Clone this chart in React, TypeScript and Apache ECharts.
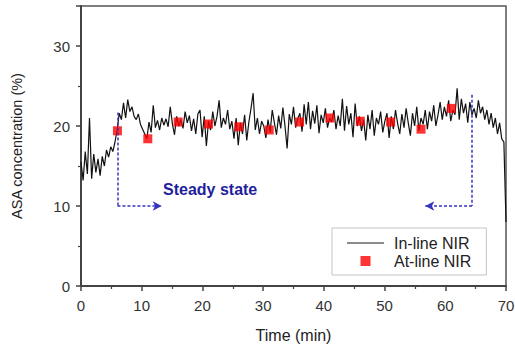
import React, { useEffect, useRef } from "react";
import * as echarts from "echarts";

const inlineStep = 0.35;
const inlineValues = [
  15.5, 13.2, 16.8, 14.0, 21.0, 13.4, 16.5, 14.2, 15.9, 13.8, 16.2, 15.0, 17.0, 16.1, 17.4, 16.8, 18.0, 19.5, 21.6, 20.8,
  22.9, 21.0, 23.3, 21.8, 22.4, 21.2, 20.8, 21.5, 20.2, 19.6, 19.0, 18.4, 20.5, 19.2, 22.6, 19.8, 20.7, 19.5, 21.0, 20.1,
  20.9, 19.9, 22.4, 20.3, 18.9, 21.2, 20.0, 20.8, 19.7, 21.8, 20.4, 21.3, 19.4, 20.9, 19.0, 21.5, 22.0, 18.6, 21.2, 17.5,
  20.6, 19.5, 21.8, 20.0, 21.2, 23.2, 19.8, 21.0, 20.2, 22.0, 19.6, 20.6, 18.4, 21.0, 17.6, 20.4, 19.0, 21.4, 18.2, 20.5,
  22.2, 24.1, 19.5, 21.0, 19.0, 20.6, 20.0, 18.5, 20.8, 19.2, 22.0, 20.4, 18.9, 21.3, 19.7, 22.3, 20.0, 17.2, 21.5, 20.2,
  22.4, 19.8, 20.9, 21.6, 19.3, 22.7, 20.2, 23.0, 19.6, 21.9, 20.3, 22.6, 19.1, 21.4, 20.4, 22.2, 19.8, 21.0, 20.5, 22.0,
  19.6, 21.3, 20.0, 23.4, 19.4, 22.5, 20.2, 21.6, 18.6, 22.8, 20.0, 21.2, 19.4, 20.8, 18.2, 21.4, 19.6, 22.0, 18.8, 21.0,
  20.2, 21.8, 19.2, 20.6, 21.6, 18.5, 21.2, 19.6, 22.0, 20.3, 19.0, 21.5, 19.8, 22.2, 20.4, 18.8, 21.6, 20.0, 22.4, 19.4,
  21.0, 20.2, 22.0, 19.6, 21.8, 20.6, 22.6, 20.0, 21.4, 23.0, 20.8, 22.4, 21.2, 23.2, 20.6, 22.0, 21.4, 24.7, 20.8, 23.4,
  21.6, 22.8, 20.4, 23.0, 21.4, 22.2, 21.0, 23.2, 21.6, 22.4, 20.8, 22.0, 20.2, 21.6, 19.8, 21.0, 19.0, 20.4, 18.4, 18.0,
  8.0,
];

const atlineTimes = [6, 11, 16, 21, 26, 31, 36, 41, 46, 51, 56, 61];
const atlineValues = [19.4, 18.4, 20.5, 20.25, 19.9, 19.5, 20.5, 21.0, 20.6, 20.5, 19.6, 22.2];

const xTicks = [0, 10, 20, 30, 40, 50, 60, 70];
const yTicks = [0, 10, 20, 30];

const steadyStart = [6, 21.7];
const steadyEnd = [64.4, 23.9];
const arrowLevel = 10;
const arrowLeftTip = 13.3;
const arrowRightTip = 56.7;

const FONT = "Arial, 'Liberation Sans', sans-serif";

export default function App() {
  const ref = useRef<HTMLDivElement>(null);
  useEffect(() => {
    if (!ref.current) return;
    const chart = echarts.init(ref.current, undefined, { renderer: "svg" });
    const inlineData = inlineValues.map((v, i) => [+(i * inlineStep).toFixed(2), v]);
    const atlineData = atlineTimes.map((t, i) => [t, atlineValues[i]]);
    const dash = { color: "#3434bc", type: [3, 2] as any, width: 1.5 };
    chart.setOption({
      animation: false,
      textStyle: { fontFamily: FONT },
      grid: {
        left: 81,
        right: 9,
        top: 6,
        bottom: 59,
        outerBoundsMode: "none",
        containLabel: false,
        show: true,
        borderColor: "#555",
        borderWidth: 1.5,
      },
      legend: {
        orient: "vertical",
        left: 332,
        top: 228,
        padding: [7, 15, 6, 15],
        itemGap: 2,
        itemWidth: 37,
        itemHeight: 10,
        borderColor: "#c4c4c4",
        borderWidth: 1,
        textStyle: { fontSize: 16, lineHeight: 16, color: "#222", fontFamily: FONT, padding: [0, 0, 0, 5] },
        data: [
          { name: "In-line NIR", icon: "path://M0,0h40v1.4h-40z", itemStyle: { color: "#666" } },
          { name: "At-line NIR", icon: "path://M0,0h10v10h-10z" },
        ],
      },
      xAxis: {
        type: "value",
        min: 0,
        max: 70,
        interval: 10,
        name: "Time (min)",
        nameLocation: "middle",
        nameGap: 41,
        nameTextStyle: { fontSize: 16, color: "#222" },
        axisLine: { show: true, lineStyle: { color: "#444", width: 2 } },
        axisTick: { show: true, inside: false, length: 5, lineStyle: { color: "#444", width: 1.5 } },
        minorTick: { show: true, splitNumber: 2, length: 3, lineStyle: { color: "#444", width: 1.2 } },
        axisLabel: {
          fontSize: 15,
          color: "#333",
          margin: 12,
          formatter: (v: number) => (xTicks.includes(v) ? String(v) : ""),
        },
        splitLine: { show: false },
      },
      yAxis: {
        type: "value",
        min: 0,
        max: 35,
        interval: 10,
        name: "ASA concentration (%)",
        nameLocation: "middle",
        nameGap: 57,
        nameTextStyle: { fontSize: 14.5, color: "#222" },
        axisLine: { show: true, lineStyle: { color: "#444", width: 2 } },
        axisTick: { show: true, inside: false, length: 5, lineStyle: { color: "#444", width: 1.5 } },
        minorTick: { show: true, splitNumber: 2, length: 3, lineStyle: { color: "#444", width: 1.2 } },
        axisLabel: {
          fontSize: 15,
          color: "#333",
          margin: 11,
          formatter: (v: number) => (yTicks.includes(v) ? String(v) : ""),
        },
        splitLine: { show: false },
      },
      graphic: [
        {
          type: "text",
          left: 163,
          top: 181,
          style: {
            text: "Steady state",
            fontSize: 16,
            fontWeight: "bold",
            fill: "#1f1f9e",
            fontFamily: FONT,
          },
        },
      ],
      series: [
        {
          name: "In-line NIR",
          type: "line",
          data: inlineData,
          symbol: "none",
          lineStyle: { color: "#111", width: 1.2 },
          itemStyle: { color: "#111" },
          z: 2,
        },
        {
          name: "At-line NIR",
          type: "scatter",
          data: atlineData,
          symbol: "rect",
          symbolSize: 9,
          itemStyle: { color: "#ff0000" },
          z: 4,
        },
        {
          name: "steady",
          type: "line",
          data: [],
          z: 3,
          markLine: {
            silent: true,
            animation: false,
            label: { show: false },
            lineStyle: dash,
            symbolSize: [7, 9],
            data: [
              [
                { coord: steadyStart, symbol: "none" },
                { coord: [steadyStart[0], arrowLevel], symbol: "none" },
              ],
              [
                { coord: [steadyStart[0], arrowLevel], symbol: "none" },
                { coord: [arrowLeftTip, arrowLevel], symbol: "arrow" },
              ],
              [
                { coord: steadyEnd, symbol: "none" },
                { coord: [steadyEnd[0], arrowLevel], symbol: "none" },
              ],
              [
                { coord: [steadyEnd[0], arrowLevel], symbol: "none" },
                { coord: [arrowRightTip, arrowLevel], symbol: "arrow" },
              ],
            ] as any,
          },
        },
      ],
    });
    return () => chart.dispose();
  }, []);
  return <div ref={ref} style={{ width: 515, height: 345, position: "absolute", left: 0, top: 0 }} />;
}
